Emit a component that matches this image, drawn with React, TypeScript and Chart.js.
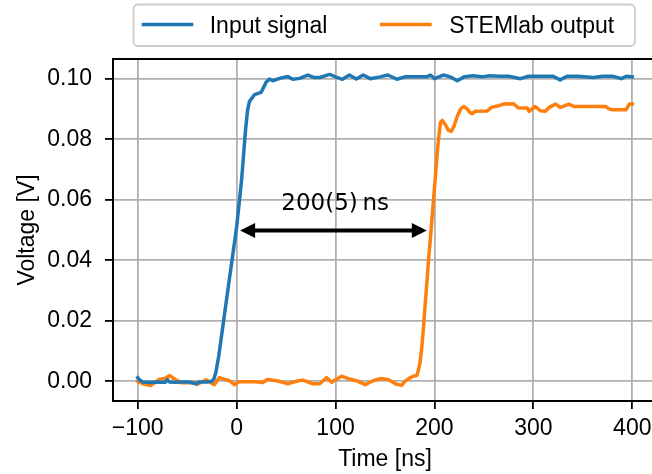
import React, { useEffect, useRef } from "react";
import { Chart, registerables } from "chart.js";

Chart.register(...registerables);

// ---- data ----
const SERIES_LABELS = ["Input signal", "STEMlab output"];
const SERIES_COLORS = ["#1f77b4", "#ff7f0e"];

const INPUT_T = [
  -100, -98, -95, -88, -80, -72, -70, -68, -62, -55, -48, -41, -38, -30, -25, -23, -21, -18, -10, 0, 5, 9, 11, 13,
  18, 24.8, 29.8, 33.2, 36.5, 43.3, 51.8, 56.8, 63.6, 72, 78, 84, 94, 100, 107, 114, 121, 128, 135, 145, 153, 162,
  170, 185, 192, 196, 200, 209, 216, 223, 230, 239, 248, 256, 265, 275, 287, 295, 310, 320, 327, 334, 345, 361, 370,
  380, 389, 394, 400,
];
const INPUT_V = [
  0.0012, 0.0004, -0.0002, -0.0004, -0.0002, -0.0003, 0.0006, -0.0002, -0.0003, -0.0002, -0.0002, -0.0008, -0.0002,
  -0.0002, 0.0, 0.0008, 0.003, 0.0085, 0.0275, 0.051, 0.0665, 0.083, 0.0895, 0.0925, 0.0947, 0.0955, 0.0988, 0.0999,
  0.0993, 0.1001, 0.1007, 0.0998, 0.1001, 0.1012, 0.1004, 0.1004, 0.1014, 0.1006, 0.0998, 0.1012, 0.0999, 0.1012,
  0.1, 0.1006, 0.1012, 0.0998, 0.1006, 0.1006, 0.1006, 0.1012, 0.1, 0.1012, 0.1006, 0.0993, 0.1006, 0.101, 0.1006,
  0.101, 0.1008, 0.1008, 0.1, 0.1008, 0.1008, 0.1008, 0.0996, 0.1008, 0.1008, 0.1004, 0.1008, 0.1008, 0.1, 0.1008,
  0.1006,
];

const OUTPUT_T = [
  -100, -95, -87, -78.5, -72, -68, -62, -56, -41, -40, -31, -22.6, -17.6, -7.4, -2.3, 2.7, 16, 26.4, 31, 40, 43, 52,
  60, 67, 77, 84, 91, 96, 106, 113, 121, 130, 138, 145, 153, 162, 167, 170, 175, 178.4, 182, 183.5, 185.3, 187, 188.7,
  191, 194, 196.6, 200.7, 203.5, 206, 208, 211, 214, 217, 220, 223, 226.5, 229.5, 233, 236, 238, 241, 253, 258, 264,
  270, 280, 285, 294, 295.5, 302, 307, 312, 316, 322.5, 327.5, 336, 341, 360, 373, 376, 380, 393.6, 397, 400,
];
const OUTPUT_V = [
  0.0, -0.0008, -0.0014, 0.0006, 0.001, 0.0019, 0.0006, -0.0005, -0.0005, -0.001, 0.0005, -0.0011, 0.0012, 0.0002,
  -0.0011, -0.0001, -0.0001, -0.0004, 0.0006, 0.0002, 0.0, -0.0008, 0.0, 0.0004, -0.0008, -0.0008, 0.0012, -0.0003,
  0.0017, 0.0009, 0.0002, -0.0011, 0.0002, 0.0009, 0.0006, -0.001, -0.0013, 0.0, 0.0011, 0.0017, 0.0019, 0.0033,
  0.006, 0.0105, 0.017, 0.027, 0.04, 0.05, 0.0667, 0.078, 0.0855, 0.0862, 0.0848, 0.083, 0.0826, 0.0845, 0.0875,
  0.09, 0.0908, 0.09, 0.0888, 0.0884, 0.0892, 0.0893, 0.0906, 0.091, 0.0916, 0.0917, 0.0903, 0.0903, 0.0892, 0.0908,
  0.0894, 0.0892, 0.0905, 0.0916, 0.0905, 0.0916, 0.0908, 0.0908, 0.0908, 0.0901, 0.0897, 0.0897, 0.0916, 0.0916,
];

const X_TICKS = [-100, 0, 100, 200, 300, 400];
const Y_TICKS = [0, 0.02, 0.04, 0.06, 0.08, 0.1];
const X_RANGE = [-125, 425];
const Y_RANGE = [-0.0065, 0.1065];
const X_TITLE = "Time [ns]";
const Y_TITLE = "Voltage [V]";

// delay annotation
const ARROW_FROM = 3.5;
const ARROW_TO = 192.3;
const ARROW_AT = 0.0498;
const DELAY_TEXT = "200(5)\u2009ns";
const DELAY_TEXT_T = 99.6;
const DELAY_TEXT_V = 0.0567;

const TICK_FONT = "'Liberation Sans', Arial, sans-serif";
const MATH_FONT = "'DejaVu Sans', sans-serif";
const FS = 23;

const decorPlugin = {
  id: "decor",
  afterDatasetsDraw(chart: any) {
    const ctx = chart.ctx as CanvasRenderingContext2D;
    const { left, right, top, bottom } = chart.chartArea;
    const xs = chart.scales.x;
    const ys = chart.scales.y;
    ctx.save();

    // spines
    ctx.strokeStyle = "#000";
    ctx.lineWidth = 1.8;
    ctx.lineCap = "square";
    ctx.beginPath();
    ctx.moveTo(left, bottom);
    ctx.lineTo(left, top);
    ctx.lineTo(right, top);
    ctx.lineTo(right, bottom);
    ctx.lineTo(left, bottom);
    ctx.stroke();

    // double-headed arrow
    const x1 = xs.getPixelForValue(ARROW_FROM);
    const x2 = xs.getPixelForValue(ARROW_TO);
    const ya = ys.getPixelForValue(ARROW_AT);
    const hl = 15;
    const hw = 7.5;
    ctx.lineWidth = 4;
    ctx.lineCap = "butt";
    ctx.beginPath();
    ctx.moveTo(x1 + hl - 1, ya);
    ctx.lineTo(x2 - hl + 1, ya);
    ctx.stroke();
    ctx.fillStyle = "#000";
    ctx.beginPath();
    ctx.moveTo(x1, ya);
    ctx.lineTo(x1 + hl, ya - hw);
    ctx.lineTo(x1 + hl, ya + hw);
    ctx.closePath();
    ctx.fill();
    ctx.beginPath();
    ctx.moveTo(x2, ya);
    ctx.lineTo(x2 - hl, ya - hw);
    ctx.lineTo(x2 - hl, ya + hw);
    ctx.closePath();
    ctx.fill();

    // annotation text
    ctx.font = `${FS}px ${MATH_FONT}`;
    ctx.textAlign = "center";
    ctx.textBaseline = "alphabetic";
    ctx.fillText(DELAY_TEXT, xs.getPixelForValue(DELAY_TEXT_T), ys.getPixelForValue(DELAY_TEXT_V));

    // axis titles
    ctx.font = `${FS}px ${TICK_FONT}`;
    ctx.fillText(X_TITLE, (left + right) / 2, 466);
    ctx.save();
    ctx.translate(34, (top + bottom) / 2);
    ctx.rotate(-Math.PI / 2);
    ctx.textBaseline = "alphabetic";
    ctx.fillText(Y_TITLE, 0, 0);
    ctx.restore();

    // legend
    const bx = 133.5, by = 4.5, bw = 501.5, bh = 41.5, r = 4.6;
    ctx.beginPath();
    ctx.moveTo(bx + r, by);
    ctx.arcTo(bx + bw, by, bx + bw, by + bh, r);
    ctx.arcTo(bx + bw, by + bh, bx, by + bh, r);
    ctx.arcTo(bx, by + bh, bx, by, r);
    ctx.arcTo(bx, by, bx + bw, by, r);
    ctx.closePath();
    ctx.fillStyle = "rgba(255,255,255,0.8)";
    ctx.fill();
    ctx.strokeStyle = "#cccccc";
    ctx.lineWidth = 1.8;
    ctx.stroke();

    const entries = [
      { x0: 141.7, x1: 193.3, tx: 209.7 },
      { x0: 380.0, x1: 431.7, tx: 449.2 },
    ];
    entries.forEach((e, i) => {
      ctx.strokeStyle = SERIES_COLORS[i];
      ctx.lineWidth = 3.5;
      ctx.lineCap = "butt";
      ctx.beginPath();
      ctx.moveTo(e.x0, 24.5);
      ctx.lineTo(e.x1, 24.5);
      ctx.stroke();
      ctx.fillStyle = "#000";
      ctx.textAlign = "left";
      ctx.textBaseline = "alphabetic";
      ctx.font = `${FS}px ${TICK_FONT}`;
      ctx.fillText(SERIES_LABELS[i], e.tx, 33.3);
    });

    ctx.restore();
  },
};

export default function App() {
  const ref = useRef<HTMLCanvasElement | null>(null);

  useEffect(() => {
    if (!ref.current) return;
    const gridCommon = {
      color: "#b0b0b0",
      lineWidth: 1.8,
      tickColor: "#000",
      tickLength: 8,
      tickWidth: 1.8,
      drawTicks: true,
    };
    const chart = new Chart(ref.current, {
      type: "line",
      data: {
        datasets: [
          {
            label: SERIES_LABELS[0],
            data: INPUT_T.map((t, i) => ({ x: t, y: INPUT_V[i] })),
            borderColor: SERIES_COLORS[0],
            backgroundColor: SERIES_COLORS[0],
            borderWidth: 3.5,
            pointRadius: 0,
            tension: 0,
            borderJoinStyle: "round",
            borderCapStyle: "square",
          },
          {
            label: SERIES_LABELS[1],
            data: OUTPUT_T.map((t, i) => ({ x: t, y: OUTPUT_V[i] })),
            borderColor: SERIES_COLORS[1],
            backgroundColor: SERIES_COLORS[1],
            borderWidth: 3.5,
            pointRadius: 0,
            tension: 0,
            borderJoinStyle: "round",
            borderCapStyle: "square",
          },
        ],
      },
      options: {
        responsive: false,
        devicePixelRatio: 1,
        animation: false,
        events: [],
        layout: { padding: { top: 59, right: 3, left: 0, bottom: 0 } },
        plugins: { legend: { display: false }, tooltip: { enabled: false } },
        scales: {
          x: {
            type: "linear",
            min: X_RANGE[0],
            max: X_RANGE[1],
            afterBuildTicks: (s: any) => {
              s.ticks = X_TICKS.map((v) => ({ value: v }));
            },
            afterFit: (s: any) => {
              s.height = 73;
            },
            grid: gridCommon,
            border: { display: true, color: "#000", width: 1.8 },
            ticks: {
              autoSkip: false,
              maxRotation: 0,
              padding: 6,
              color: "#000",
              font: { family: TICK_FONT, size: FS },
              callback: (v: any) => (v < 0 ? "\u2212" + Math.abs(v) : String(v)),
            },
          },
          y: {
            type: "linear",
            min: Y_RANGE[0],
            max: Y_RANGE[1],
            afterBuildTicks: (s: any) => {
              s.ticks = Y_TICKS.map((v) => ({ value: v }));
            },
            afterFit: (s: any) => {
              s.width = 113;
            },
            grid: gridCommon,
            border: { display: true, color: "#000", width: 1.8 },
            ticks: {
              autoSkip: false,
              padding: 13,
              color: "#000",
              font: { family: TICK_FONT, size: FS },
              callback: (v: any) => Number(v).toFixed(2),
            },
          },
        },
      },
      plugins: [decorPlugin],
    } as any);
    return () => chart.destroy();
  }, []);

  return (
    <div
      style={{
        position: "fixed",
        left: 0,
        top: 0,
        width: 652,
        height: 474,
        overflow: "hidden",
        background: "#fff",
      }}
    >
      <canvas ref={ref} width={660} height={474} style={{ display: "block", width: 660, height: 474 }} />
    </div>
  );
}
